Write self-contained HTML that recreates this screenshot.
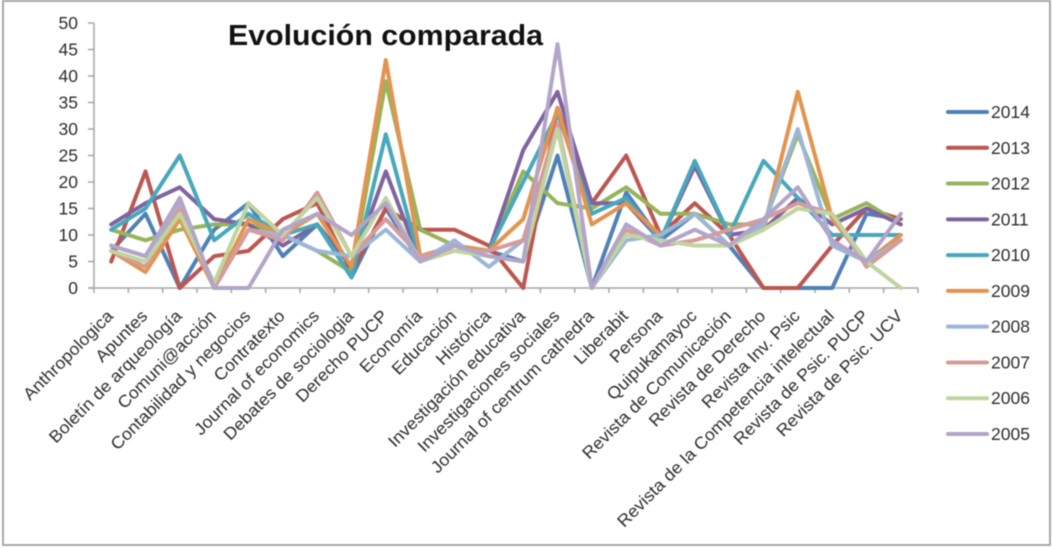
<!DOCTYPE html>
<html lang="es">
<head>
<meta charset="utf-8">
<title>Evolución comparada</title>
<style>
html,body{margin:0;padding:0;background:#fff;width:1052px;height:548px;overflow:hidden}
svg{display:block;filter:blur(0.6px)}
text{font-family:"Liberation Sans",sans-serif;fill:#2e2e2e}
</style>
</head>
<body>
<svg id="chart" xmlns="http://www.w3.org/2000/svg" width="1052" height="548" viewBox="0 0 1052 548">
<rect x="3" y="1" width="1047" height="544" fill="#fff" stroke="#a8a8a8" stroke-width="2"/>
<text x="228" y="45" font-size="29" font-weight="bold" style="fill:#111" textLength="315" lengthAdjust="spacingAndGlyphs">Evolución comparada</text>
</svg>
<script>
const categories = ["Anthropologica","Apuntes","Boletín de arqueología","Comuni@acción","Contabilidad y negocios","Contratexto","Journal of economics","Debates de sociologia","Derecho PUCP","Economía","Educación","Histórica","Investigación educativa","Investigaciones sociales","Journal of centrum cathedra","Liberabit","Persona","Quipukamayoc","Revista de Comunicación","Revista de Derecho","Revista Inv. Psic","Revista de la Competencia intelectual","Revista de Psic. PUCP","Revista de Psic. UCV"];
const yTicks = [0,5,10,15,20,25,30,35,40,45,50];
const seriesNames = ["2014","2013","2012","2011","2010","2009","2008","2007","2006","2005"];
const values2014 = [7,14,0,11,16,6,12,2,15,5,8,7,5,25,0,18,9,14,8,0,0,0,14,13];
const values2013 = [5,22,0,6,7,13,16,3,15,11,11,8,0,34,16,25,10,16,10,0,0,8,15,13];
const values2012 = [11,9,11,12,12,10,7,3,39,11,8,7,22,16,15,19,14,14,12,12,29,13,16,12];
const values2011 = [12,16,19,13,12,8,12,4,22,5,8,7,26,37,16,16,9,23,10,11,17,12,15,12];
const values2010 = [11,15,25,9,14,10,12,2,29,5,8,7,20,33,14,17,9,24,10,24,17,10,10,10];
const values2009 = [7,3,13,0,13,10,14,4,43,6,8,7,13,34,12,16,10,14,8,11,37,13,5,10];
const values2008 = [8,6,16,0,11,10,7,6,11,5,9,4,9,30,0,9,10,14,8,12,30,8,5,9];
const values2007 = [7,4,15,0,11,9,18,6,13,6,7,7,9,31,0,11,8,9,11,13,16,14,4,9];
const values2006 = [7,5,14,1,16,10,17,6,17,5,7,6,5,30,0,10,9,8,8,11,15,14,5,0];
const values2005 = [8,6,17,0,0,11,14,10,16,5,8,6,5,46,0,12,8,11,8,13,19,9,5,14];
const seriesValues = [values2014,values2013,values2012,values2011,values2010,values2009,values2008,values2007,values2006,values2005];
const seriesColors = ["#4f81b9","#bd5650","#97b45a","#7f64a0","#48a8bb","#e3944f","#9db6d8","#d79b98","#bfd5a0","#b3a5c9"];

const svgNS = "http://www.w3.org/2000/svg";
const svg = document.getElementById("chart");
const plot = {left:94, right:918, top:23, bottom:288, yMax:50};
function xBand(i){ return plot.left + (plot.right-plot.left)*i/categories.length; }
function xScale(i){ return xBand(i + 0.5); }
function yScale(v){ return plot.bottom - (plot.bottom-plot.top)*v/plot.yMax; }
function make(tag, attrs){
  const el = document.createElementNS(svgNS, tag);
  for (const k in attrs) el.setAttribute(k, attrs[k]);
  return el;
}
const axisColor = "#a6a6a6";

const yAxis = make("line",{x1:plot.left,x2:plot.left,y1:plot.top,y2:plot.bottom,stroke:axisColor,"stroke-width":1.5});


svg.appendChild(yAxis);
const xAxis = make("line",{x1:plot.left-5,x2:plot.right,y1:plot.bottom,y2:plot.bottom,stroke:axisColor,"stroke-width":1.5});


svg.appendChild(xAxis);

yTicks.forEach(function(t){
  const mark = make("line",{x1:plot.left-6,x2:plot.left,y1:yScale(t),y2:yScale(t),stroke:axisColor,"stroke-width":1.5});
  
  
  svg.appendChild(mark);
  const label = make("text",{x:plot.left-16,y:yScale(t)+6,"text-anchor":"end","font-size":17.5});
  
  
  label.textContent = t;
  svg.appendChild(label);
});

for (let i = 0; i <= categories.length; i++){
  const mark = make("line",{x1:xBand(i),x2:xBand(i),y1:plot.bottom,y2:plot.bottom+5,stroke:axisColor,"stroke-width":1.5});
  
  
  svg.appendChild(mark);
}

categories.forEach(function(c,i){
  const ax = xScale(i) + 3;
  const ay = 317;
  const label = make("text",{x:0,y:0,"text-anchor":"end","font-size":17,transform:"translate("+ax+" "+ay+") rotate(-45) scale(1.05 1)"});
  
  
  label.textContent = c;
  svg.appendChild(label);
});

seriesValues.forEach(function(vals,s){
  const pts = vals.map(function(v,i){ return xScale(i).toFixed(1)+","+yScale(v).toFixed(1); }).join(" ");
  const line = make("polyline",{points:pts,fill:"none",stroke:seriesColors[s],"stroke-width":4,"stroke-linejoin":"round","stroke-linecap":"round"});
  
  
  svg.appendChild(line);
});

seriesNames.forEach(function(n,s){
  const ly = 112 + s*35.78;
  const key = make("line",{x1:948,x2:987,y1:ly,y2:ly,stroke:seriesColors[s],"stroke-width":4,"stroke-linecap":"round"});
  
  
  svg.appendChild(key);
  const label = make("text",{x:991,y:ly+6,"font-size":17.5});
  
  
  label.textContent = n;
  svg.appendChild(label);
});
</script>
</body>
</html>
